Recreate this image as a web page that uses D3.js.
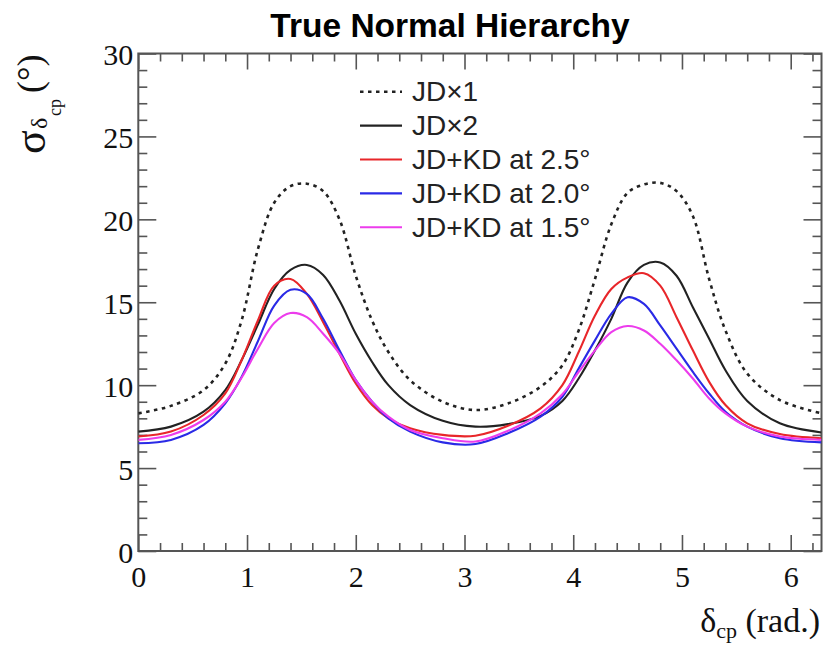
<!DOCTYPE html>
<html>
<head>
<meta charset="utf-8">
<script src="https://cdn.jsdelivr.net/npm/d3@7"></script>
<style>
  body { margin: 0; background: #fff; }
  svg { display: block; }
</style>
</head>
<body>
<svg id="chart" width="825" height="646"></svg>
<script>
// ---------------- data ----------------
const deltaCP = [0, 0.3, 0.6, 0.8, 0.95, 1.1, 1.25, 1.4, 1.55, 1.7, 1.85, 2.0, 2.15, 2.3, 2.5, 2.8, 3.1,
                 3.4, 3.7, 3.9, 4.05, 4.2, 4.35, 4.5, 4.65, 4.8, 4.95, 5.1, 5.25, 5.4, 5.6, 5.9, 6.283];
const jdx1   = [8.3, 8.75, 9.7, 11.3, 13.9, 18.2, 21.0, 22.0, 22.15, 21.7, 20.0, 16.6, 13.9, 12.0, 10.3, 9.0, 8.5,
                8.9, 9.9, 11.2, 13.3, 16.4, 19.7, 21.6, 22.1, 22.2, 21.7, 20.2, 16.4, 13.3, 10.7, 9.1, 8.3];
const jdx2   = [7.2, 7.5, 8.4, 9.7, 11.5, 13.65, 15.8, 16.95, 17.25, 16.65, 15.1, 13.1, 11.4, 10.0, 8.8, 7.85, 7.5,
                7.65, 8.15, 9.05, 10.4, 12.1, 14.0, 16.2, 17.25, 17.4, 16.6, 14.7, 12.8, 10.9, 9.05, 7.7, 7.15];
const kd25   = [6.9, 7.2, 8.2, 9.5, 11.5, 13.9, 16.0, 16.4, 15.5, 13.8, 11.9, 10.1, 8.8, 8.0, 7.4, 7.0, 6.95,
                7.55, 8.6, 10.0, 12.0, 14.2, 15.8, 16.5, 16.75, 16.0, 14.1, 12.1, 10.2, 8.8, 7.7, 7.05, 6.8];
const kd20   = [6.5, 6.7, 7.6, 8.9, 10.5, 12.65, 14.8, 15.75, 15.5, 14.0, 12.1, 10.3, 9.0, 8.0, 7.2, 6.55, 6.45,
                7.1, 8.1, 9.3, 11.0, 12.7, 14.3, 15.3, 14.9, 13.6, 12.2, 10.8, 9.5, 8.4, 7.5, 6.8, 6.55];
const kd15   = [6.7, 7.0, 7.9, 9.0, 10.45, 12.2, 13.75, 14.35, 14.1, 13.1, 11.9, 10.3, 9.0, 8.1, 7.3, 6.8, 6.6,
                7.25, 8.3, 9.45, 10.8, 12.1, 13.2, 13.57, 13.3, 12.5, 11.5, 10.4, 9.2, 8.3, 7.5, 6.9, 6.7];
const seriesNames = ["JD\u00d71", "JD\u00d72", "JD+KD at 2.5\u00b0", "JD+KD at 2.0\u00b0", "JD+KD at 1.5\u00b0"];
const xTicks = [0, 1, 2, 3, 4, 5, 6];
const yTicks = [0, 5, 10, 15, 20, 25, 30];
const titleText = "True Normal Hierarchy";

// ---------------- styles ----------------
const seriesValues = [jdx1, jdx2, kd25, kd20, kd15];
const colors = ["#222", "#222", "#e8262a", "#2a2ae6", "#ec3cec"];
const dashes = ["3.5,4.5", null, null, null, null];
const widths = [2.6, 2.1, 2.1, 2.1, 2.1];

const svg = d3.select("#chart");
svg.append("rect").attr("width", 825).attr("height", 646).attr("fill", "#fff");

const L = 138.3, R = 821.5, T = 53.5, B = 551;
const x = d3.scaleLinear().domain([0, 2 * Math.PI]).range([L, R]);
const y = d3.scaleLinear().domain([0, 30]).range([B, T]);

const axisColor = "#555";
const minorX = d3.range(0, 6.3, 0.2).filter(v => Math.abs(v - Math.round(v)) > 1e-6 && v <= 2 * Math.PI);
const minorY = d3.range(0, 31, 1).filter(v => v % 5 !== 0);

function styleAxis(g) {
  g.select(".domain").remove();
  g.selectAll(".tick line").attr("stroke", axisColor).attr("stroke-width", 1.6);
}

// bottom
svg.append("g").attr("transform", `translate(0,${B})`)
  .call(d3.axisBottom(x).tickValues(xTicks).tickSize(-16).tickFormat(d3.format("d")).tickPadding(0))
  .call(styleAxis)
  .call(g => g.selectAll("text").attr("y", 36).attr("dy", null)
    .attr("font-family", "'Liberation Serif', 'Times New Roman', serif").attr("font-size", 30).attr("fill", "#111"));
svg.append("g").attr("transform", `translate(0,${B})`)
  .call(d3.axisBottom(x).tickValues(minorX).tickSize(-8).tickFormat(""))
  .call(styleAxis);
// top
svg.append("g").attr("transform", `translate(0,${T})`)
  .call(d3.axisTop(x).tickValues(xTicks).tickSize(-16).tickFormat(""))
  .call(styleAxis);
svg.append("g").attr("transform", `translate(0,${T})`)
  .call(d3.axisTop(x).tickValues(minorX).tickSize(-8).tickFormat(""))
  .call(styleAxis);
// left
svg.append("g").attr("transform", `translate(${L},0)`)
  .call(d3.axisLeft(y).tickValues(yTicks).tickSize(-18).tickFormat(d3.format("d")))
  .call(styleAxis)
  .call(g => g.selectAll("text").attr("x", -5).attr("dy", null).attr("y", 11)
    .attr("font-family", "'Liberation Serif', 'Times New Roman', serif").attr("font-size", 30).attr("fill", "#111"));
svg.append("g").attr("transform", `translate(${L},0)`)
  .call(d3.axisLeft(y).tickValues(minorY).tickSize(-9).tickFormat(""))
  .call(styleAxis);
// right
svg.append("g").attr("transform", `translate(${R},0)`)
  .call(d3.axisRight(y).tickValues(yTicks).tickSize(-18).tickFormat(""))
  .call(styleAxis);
svg.append("g").attr("transform", `translate(${R},0)`)
  .call(d3.axisRight(y).tickValues(minorY).tickSize(-9).tickFormat(""))
  .call(styleAxis);

// frame
svg.append("rect").attr("x", L).attr("y", T).attr("width", R - L).attr("height", B - T)
  .attr("fill", "none").attr("stroke", axisColor).attr("stroke-width", 2);

// curves
svg.append("clipPath").attr("id", "clip").append("rect")
  .attr("x", L).attr("y", T).attr("width", R - L).attr("height", B - T);
const line = d3.line().x(d => x(d[0])).y(d => y(d[1])).curve(d3.curveCatmullRom.alpha(0.5));
const plot = svg.append("g").attr("clip-path", "url(#clip)");
seriesValues.forEach((vals, i) => {
  const pts = deltaCP.map((d, j) => [d, vals[j]]);
  plot.append("path").datum(pts).attr("d", line)
    .attr("fill", "none").attr("stroke", colors[i]).attr("stroke-width", widths[i])
    .attr("stroke-dasharray", dashes[i]).attr("stroke-linejoin", "round");
});

// legend
const legend = svg.append("g");
seriesNames.forEach((name, i) => {
  const cy = 91.7 + i * 33.9;
  legend.append("line").attr("x1", 360).attr("x2", 402).attr("y1", cy).attr("y2", cy)
    .attr("stroke", colors[i]).attr("stroke-width", widths[i]).attr("stroke-dasharray", dashes[i]);
  legend.append("text").attr("x", 412).attr("y", cy + 9.5).text(name)
    .attr("font-family", "'Liberation Sans', Arial, sans-serif").attr("font-size", 28).attr("fill", "#222");
});

// title
svg.append("text").attr("x", 450).attr("y", 37).attr("text-anchor", "middle")
  .attr("font-family", "'Liberation Sans', Arial, sans-serif").attr("font-weight", "bold")
  .attr("font-size", 33.5).attr("fill", "#000").text(titleText);

// x axis title
const serif = "'Liberation Serif', 'Times New Roman', serif";
const xt = svg.append("text").attr("x", 820).attr("y", 632).attr("text-anchor", "end")
  .attr("font-family", serif).attr("font-size", 34).attr("fill", "#111");
xt.append("tspan").text("\u03b4");
xt.append("tspan").attr("font-size", 22).attr("dy", 6).text("cp");
xt.append("tspan").attr("dy", -6).text(" (rad.)");

// y axis title (rotated)
const yt = svg.append("g").attr("transform", "rotate(-90)")
  .attr("font-family", serif).attr("fill", "#111");
yt.append("text").attr("x", -154).attr("y", 45).attr("font-size", 44).text("\u03c3");
yt.append("text").attr("x", -129).attr("y", 47).attr("font-size", 24).text("\u03b4");
yt.append("text").attr("x", -116).attr("y", 61).attr("font-size", 18).text("cp");
yt.append("text").attr("x", -93).attr("y", 42).attr("font-size", 36).text("(\u00b0)");
</script>
</body>
</html>
